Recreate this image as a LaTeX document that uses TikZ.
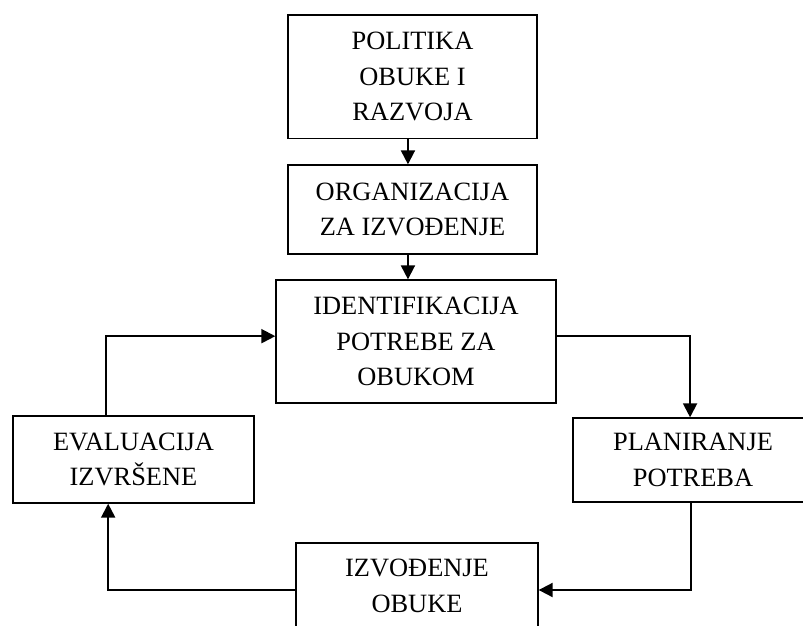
\documentclass[tikz,border=0pt]{standalone}
\usepackage{fontspec}
\setmainfont{Liberation Serif}
\usetikzlibrary{arrows.meta}

\tikzset{
  stepbox/.style={draw, line width=1pt, align=center, inner sep=0pt,
    font=\fontsize{19.8pt}{26.6pt}\selectfont},
  conn/.style={line width=1.5pt, -{Triangle[length=10.5pt,width=10.5pt]}}
}

\begin{document}
\begin{tikzpicture}[x=0.75pt,y=0.75pt,yscale=-1,xscale=1]
\useasboundingbox (0,0) rectangle (803,625);

% Boxes
\node [stepbox, minimum width=186.75pt, minimum height=92.6pt] (pol) at (412.5,76.7) {POLITIKA\\OBUKE I\\RAZVOJA};
\node [stepbox, minimum width=186.75pt, minimum height=66.75pt] (org) at (412.5,209.5) {ORGANIZACIJA\\ZA IZVOĐENJE};
\node [stepbox, minimum width=210pt, minimum height=92.25pt] (ide) at (416,341.5) {IDENTIFIKACIJA\\POTREBE ZA\\OBUKOM};
\node [stepbox, minimum width=180.75pt, minimum height=65.25pt] (eva) at (133.5,459.5) {EVALUACIJA\\IZVRŠENE};
\node [stepbox, minimum width=180pt, minimum height=63pt] (pla) at (693,460) {PLANIRANJE\\POTREBA};
\node [stepbox, minimum width=181.5pt, minimum height=64.5pt] (izv) at (417,586) {IZVOĐENJE\\OBUKE};

% Connectors (yscale=-1 flips yshift)
\draw [conn] ([xshift=-3.4pt]pol.south) -- ([xshift=-3.4pt]org.north);
\draw [conn] ([xshift=-3.4pt]org.south) -- ([xshift=-3.4pt]org.south |- ide.north);
\draw [conn] ([yshift=-4pt]ide.east) -| ([xshift=-2.2pt]pla.north);
\draw [conn] ([xshift=-1.5pt]pla.south) |- ([yshift=3pt]izv.east);
\draw [conn] ([yshift=3pt]izv.west) -| ([xshift=-19pt]eva.south);
\draw [conn] ([xshift=-20.6pt]eva.north) |- ([yshift=-4pt]ide.west);

\end{tikzpicture}
\end{document}
